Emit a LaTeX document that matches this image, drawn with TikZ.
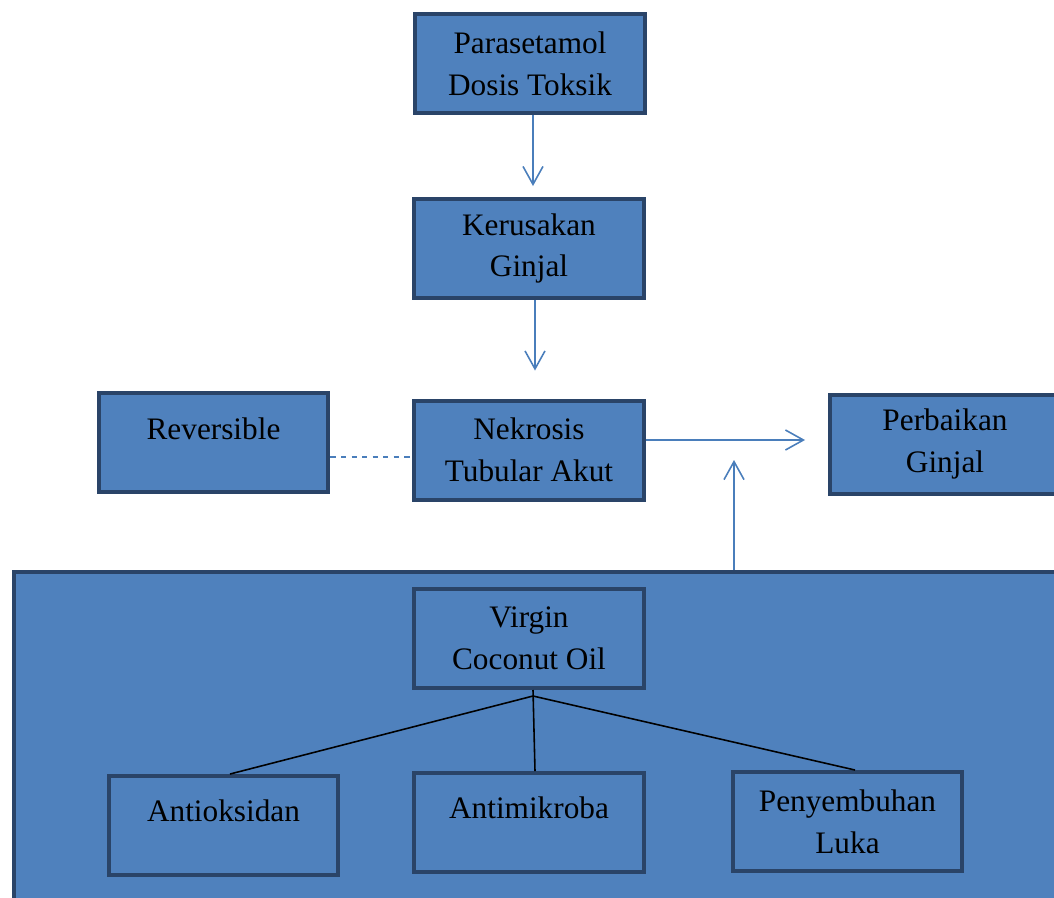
\documentclass[tikz,border=0pt]{standalone}
\usepackage{fontspec}
\setmainfont{Liberation Serif}
\usepackage{tikz}
\usetikzlibrary{arrows.meta,positioning}

\definecolor{boxfill}{HTML}{4F81BD}
\definecolor{boxline}{HTML}{2A4468}
\definecolor{flowline}{HTML}{4A7EBB}

\begin{document}
\begin{tikzpicture}[x=0.02cm,y=-0.02cm,
    kotak/.style={draw=boxline, fill=boxfill, line width=0.08cm, minimum width=4.6cm, minimum height=1.98cm,
                  align=center, inner sep=0pt, font=\fontsize{17.8}{23.8}\selectfont},
    alur/.style={draw=flowline, line width=0.9pt, -{Straight Barb[length=3.6mm,width=4mm]}},
    cabang/.style={draw=black, line width=0.9pt}]
    \useasboundingbox (0,0) rectangle (1054,897);
    \clip (0,0) rectangle (1054,897);
    % kotak atas
    \node[kotak] (para) at (530,63.5) {Parasetamol\\Dosis Toksik};
    \node[kotak] (rusak) at (529,248.5) {Kerusakan\\Ginjal};
    \node[kotak] (rev) at (213.5,442.5) {\raisebox{0.54cm}{Reversible}};
    \node[kotak] (nekro) at (529,450) {Nekrosis\\Tubular Akut};
    \node[kotak] (baik) at (945,444) {Perbaikan\\Ginjal};
    % panel VCO
    \node[kotak, anchor=north west, minimum width=21.2cm, minimum height=6.9cm] (panel) at (12,570) {};
    \node[kotak] (vco) at (529,638.5) {Virgin\\Coconut Oil};
    \node[kotak] (anti) at (223.5,825.5) {\raisebox{0.6cm}{Antioksidan}};
    \node[kotak] (mikro) at (529,822.5) {\raisebox{0.6cm}{Antimikroba}};
    \node[kotak] (luka) at (847.5,821.5) {Penyembuhan\\Luka};
    \coordinate (hub) at (533,696);
    \coordinate (naik) at (734,460);
    \coordinate (turun1) at (533,0);
    \coordinate (turun2) at (535,0);
    % panah
    \draw[alur, shorten >=0.22cm] (para.south -| turun1) -- (rusak.north -| turun1);
    \draw[alur, shorten >=0.56cm] (rusak.south -| turun2) -- (nekro.north -| turun2);
    \draw[alur, shorten >=0.46cm] ([yshift=0.2cm]nekro.east) -- ([yshift=0.2cm]nekro.east -| baik.west);
    \draw[alur] (panel.north -| naik) -- (naik);
    \draw[draw=flowline, line width=0.9pt, dashed] ([yshift=-0.29cm]rev.east) -- ([yshift=-0.29cm]rev.east -| nekro.west);
    % cabang VCO
    \draw[cabang] ([xshift=0.08cm]vco.south) -- ([xshift=0.12cm]mikro.north);
    \foreach \t/\dx in {anti/0.13cm,luka/0.15cm} { \draw[cabang] (hub) -- ([xshift=\dx]\t.north); }
\end{tikzpicture}
\end{document}
